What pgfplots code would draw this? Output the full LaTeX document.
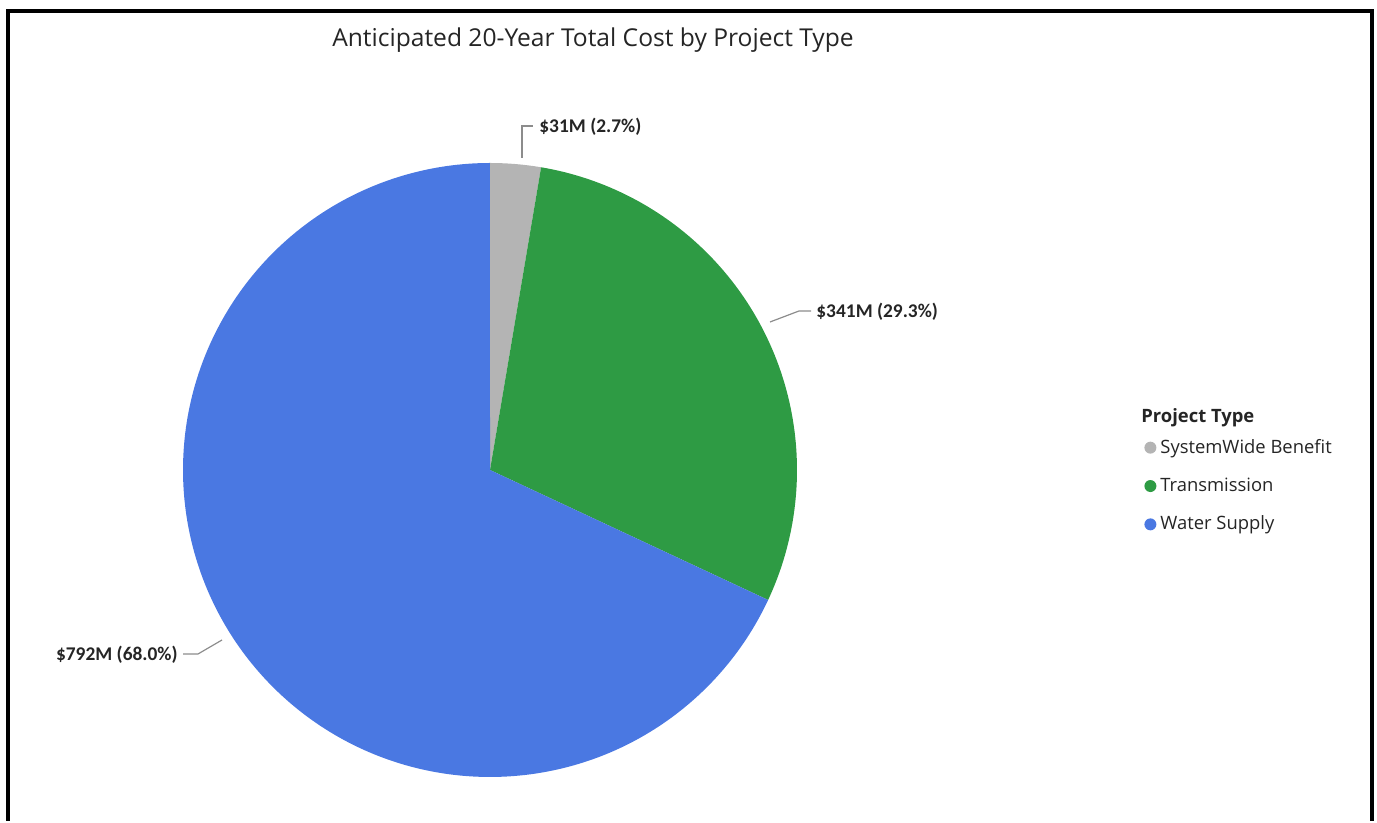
\documentclass[border=0pt]{standalone}
\usepackage{pgfplots}
\pgfplotsset{compat=1.18}
\usepackage{fontspec}
\setmainfont{Carlito}
\newfontfamily\titlefont{Open Sans}
\definecolor{cgray}{HTML}{B4B4B4}
\definecolor{cgreen}{HTML}{2E9B44}
\definecolor{cblue}{HTML}{4A78E2}
\definecolor{ctext}{HTML}{252525}
\definecolor{cline}{HTML}{8C8C8C}
% values (millions of dollars)
\def\vA{31}
\def\vB{341}
\def\vC{792}
\pgfmathsetmacro{\tot}{\vA+\vB+\vC}
\pgfmathsetmacro{\aZero}{90}
\pgfmathsetmacro{\aOne}{90-\vA/\tot*360}
\pgfmathsetmacro{\aTwo}{\aOne-\vB/\tot*360}
\pgfmathsetmacro{\aThree}{\aTwo-\vC/\tot*360}
\begin{document}
\begin{tikzpicture}
\begin{axis}[
  width=688.5pt, height=410.5pt, scale only axis,
  xmin=0, xmax=1377, ymin=0, ymax=821,
  hide axis, clip=false,
  legend style={draw=none, fill=none, at={(axis description cs:0.8308,0.4705)}, anchor=north west,
    font=\titlefont\fontsize{9.2}{11}\selectfont, text=ctext, row sep=6.8pt,
    inner xsep=0pt, inner ysep=0pt},
  legend cell align=left,
  legend image code/.code={\fill[#1] (0pt,0pt) circle (3pt);},
]
\path (axis cs:0,0) rectangle (axis cs:1377,821);
\addplot[fill=cgray, draw=none, domain=\aOne:\aZero, samples=30, variable=\t] ({490+307*cos(\t)},{351+307*sin(\t)}) -- (axis cs:490,351) -- cycle;
\addplot[fill=cgreen, draw=none, domain=\aTwo:\aOne, samples=120, variable=\t] ({490+307*cos(\t)},{351+307*sin(\t)}) -- (axis cs:490,351) -- cycle;
\addplot[fill=cblue, draw=none, domain=\aThree:\aTwo, samples=240, variable=\t] ({490+307*cos(\t)},{351+307*sin(\t)}) -- (axis cs:490,351) -- cycle;
\legend{SystemWide Benefit, Transmission, Water Supply}
% title
\node[font=\titlefont\fontsize{12.3}{14}\selectfont, text=ctext] at (axis cs:593,781) {Anticipated 20-Year Total Cost by Project Type};
% data labels
\draw[cline, line width=0.6pt] (axis cs:522,663) -- (axis cs:522,695) -- (axis cs:533,695);
\node[anchor=west, font=\bfseries\fontsize{9.7}{11}\selectfont, text=ctext, inner sep=0pt] at (axis cs:539,694) {\$31M (2.7\%)};
\draw[cline, line width=0.6pt] (axis cs:770,499) -- (axis cs:799,510) -- (axis cs:811,510);
\node[anchor=west, font=\bfseries\fontsize{9.7}{11}\selectfont, text=ctext, inner sep=0pt] at (axis cs:816,509) {\$341M (29.3\%)};
\draw[cline, line width=0.6pt] (axis cs:222,181) -- (axis cs:198,167) -- (axis cs:183,167);
\node[anchor=east, font=\bfseries\fontsize{9.7}{11}\selectfont, text=ctext, inner sep=0pt] at (axis cs:178,166) {\$792M (68.0\%)};
% legend title
\node[anchor=west, font=\titlefont\bfseries\fontsize{9.2}{11}\selectfont, text=ctext, inner sep=0pt] at (axis cs:1141,403) {Project Type};
% frame
\draw[black, line width=2pt] (axis cs:8,0) -- (axis cs:8,809.5) -- (axis cs:1372,809.5) -- (axis cs:1372,0);
\end{axis}
\end{tikzpicture}
\end{document}
